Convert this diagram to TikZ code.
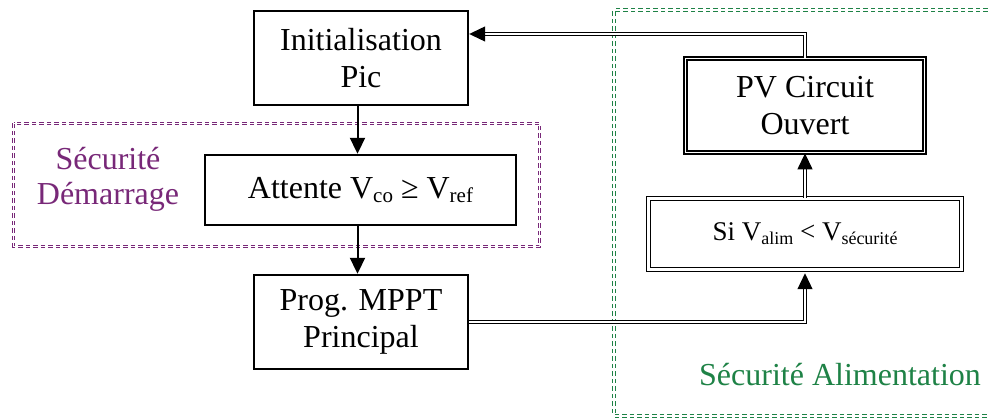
\documentclass[tikz,border=0pt]{standalone}
\usepackage{fontspec}
\setmainfont{Liberation Serif}
\usetikzlibrary{arrows.meta}
\definecolor{grn}{RGB}{30,130,70}
\definecolor{prp}{RGB}{120,40,120}
\newcommand{\sbs}[1]{\raisebox{-4.5pt}{\fontsize{21}{21}\selectfont #1}}
\newcommand{\sbsm}[1]{\raisebox{-4pt}{\fontsize{18}{18}\selectfont #1}}
\begin{document}
\begin{tikzpicture}[x=1pt,y=-1pt,
 box/.style={draw, line width=2.4pt, inner sep=0pt, align=center, font=\fontsize{32}{37}\selectfont},
 dbox/.style={draw, line width=1.8pt, double=white, double distance=1.8pt, inner sep=0pt, align=center, font=\fontsize{32}{37}\selectfont},
 arr/.style={line width=2pt, -{Triangle[length=16pt,width=15pt]}},
 darr/.style={line width=1.2pt, double=white, double distance=1.6pt, -{Triangle[length=16pt,width=15pt]}},
 frame/.style={line width=1.1pt, double=white, double distance=1.2pt, dash pattern=on 4.5pt off 3pt},
 lab/.style={font=\fontsize{32}{37}\selectfont, anchor=base},
]
\useasboundingbox (0,0) rectangle (989,419);
\fill[white] (0,0) rectangle (989,419);
% frames
\draw[frame, draw=prp] (13.5,123.5) rectangle (539.5,246.5);
\draw[frame, draw=grn] (995,10) -- (614,10) -- (614,416) -- (995,416);
% boxes
\node[box, minimum width=214pt, minimum height=94pt] (init) at (361,58) {Initialisation\\Pic};
\node[box, minimum width=311pt, minimum height=70pt] (att) at (360.5,190) {Attente V\sbs{co} ≥ V\sbs{ref}};
\node[box, minimum width=214pt, minimum height=94pt] (prog) at (361,322) {Prog. MPPT\\Principal};
\node[dbox, minimum width=239pt, minimum height=94pt] (pv) at (805,105.5) {PV Circuit\\Ouvert};
\node[dbox, line width=1.5pt, double distance=2.2pt, minimum width=313pt, minimum height=71pt, font=\fontsize{27}{32}\selectfont] (si) at (805,234) {Si V\sbsm{alim} < V\sbsm{sécurité}};
% labels
\node[lab, text=prp] (ls1) at (108,170) {Sécurité};
\node[lab, text=prp] (ls2) at (108,205) {Démarrage};
\node[lab, text=grn] (la) at (840,386) {Sécurité Alimentation};
% connectors
\coordinate (cx) at (357.5,0);
\draw[arr] (init.south -| cx) -- (att.north -| cx);
\draw[arr] (att.south -| cx) -- (prog.north -| cx);
\draw[darr, shorten >=3pt] (prog.east) -| (si.south);
\draw[darr] (si.north) -- (pv.south);
\draw[darr] (pv.north) |- ([yshift=24pt]init.east);
\end{tikzpicture}
\end{document}
